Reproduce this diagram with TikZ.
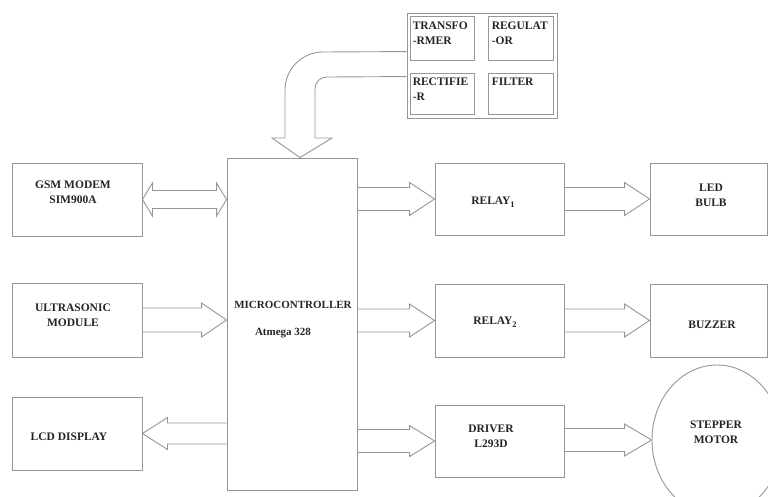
\documentclass[tikz,border=0pt]{standalone}
\usepackage{fontspec}
\setmainfont{Liberation Serif}
\usetikzlibrary{calc,shapes.geometric}
\definecolor{lc}{RGB}{150,150,150}
\definecolor{tc}{RGB}{35,35,45}
\tikzset{
  box/.style={draw=lc, line width=0.9pt, rectangle, inner sep=0pt},
  blk/.style={draw=lc, line width=0.9pt, line join=miter},
  txt/.style={text=tc, font=\bfseries\fontsize{11.5}{15}\selectfont, align=center, inner sep=0pt},
  mtxt/.style={text=tc, font=\bfseries\fontsize{11}{14}\selectfont, align=center, inner sep=0pt},
  ptxt/.style={text=tc, font=\bfseries\fontsize{11.5}{15.5}\selectfont, align=left, inner sep=0pt, anchor=north west},
}
% horizontal block arrow: tail point (x used), tip point, shaft half, head half, head length (signed)
\newcommand\harrow[5]{%
  \draw[blk] let \p1=(#1), \p2=(#2) in
    ({\x1},{\y2+#3pt}) -- ({\x2-(#5pt)},{\y2+#3pt}) -- ({\x2-(#5pt)},{\y2+#4pt}) -- (\p2)
    -- ({\x2-(#5pt)},{\y2-#4pt}) -- ({\x2-(#5pt)},{\y2-#3pt}) -- ({\x1},{\y2-#3pt});}
\begin{document}
\begin{tikzpicture}[x=1pt,y=-1pt]
\path[use as bounding box, clip] (0,0) rectangle (768,496);

% power supply group
\node[box, minimum width=150, minimum height=105] (pwr) at (482,65.5) {};
\node[box, minimum width=64, minimum height=44] (tr) at (442,38) {};
\node[box, minimum width=65, minimum height=44] (rg) at (520.5,38) {};
\node[box, minimum width=64, minimum height=41] (rc) at (442,93.5) {};
\node[box, minimum width=65, minimum height=41] (fl) at (520.5,93.5) {};
\node[ptxt] (trT) at ($(tr.north west)+(3,6)$) {TRANSFO\\-RMER};
\node[ptxt] (rgT) at ($(rg.north west)+(4,6)$) {REGULAT\\-OR};
\node[ptxt] (rcT) at ($(rc.north west)+(3,5)$) {RECTIFIE\\-R};
\node[ptxt] (flT) at ($(fl.north west)+(4,5)$) {FILTER};

% main blocks
\node[box, minimum width=130, minimum height=73] (gsm) at (77,199.5) {};
\node[box, minimum width=130, minimum height=74] (ultra) at (77,320) {};
\node[box, minimum width=130, minimum height=73] (lcd) at (77,433.5) {};
\node[box, minimum width=130, minimum height=332] (mc) at (292,324) {};
\node[box, minimum width=129, minimum height=72] (relay1) at (499.5,199) {};
\node[box, minimum width=129, minimum height=73] (relay2) at (499.5,320.5) {};
\node[box, minimum width=129, minimum height=72] (drv) at (499.5,441) {};
\node[box, minimum width=117, minimum height=72] (led) at (708.5,199) {};
\node[box, minimum width=117, minimum height=73] (buzz) at (708.5,320.5) {};
\node[draw=lc, line width=0.9pt, ellipse, minimum width=130, minimum height=150, inner sep=0pt] (step) at (717,440) {};

% texts
\node[txt] (gsmT) at (73,192.5) {GSM MODEM\\SIM900A};
\node[txt] (ultraT) at (73,315.5) {ULTRASONIC\\MODULE};
\node[txt] (lcdT) at (69,437) {LCD DISPLAY};
\node[mtxt] (mcT1) at (293,305) {MICROCONTROLLER};
\node[mtxt] (mcT2) at (283,333) {Atmega 328};
\node[txt] (relay1T) at (493,202) {RELAY\raisebox{-3.5pt}{\fontsize{8.5}{9}\selectfont 1}};
\node[txt] (relay2T) at (495,322) {RELAY\raisebox{-3.5pt}{\fontsize{8.5}{9}\selectfont 2}};
\node[txt] (ledT) at (711,195.5) {LED\\BULB};
\node[txt] (buzzT) at (712,325) {BUZZER};
\node[txt] (drvT) at (491,436) {DRIVER\\L293D};
\node[txt] (stepT) at (716,432) {STEPPER\\MOTOR};

% power curved block arrow
\draw[blk] ($(pwr.north west)+(0,64)$) -- (327,77) .. controls (320,77) and (315,82) .. (315,89)
  -- (315,138) -- (332,138) -- ($(mc.north)+(8,0)$) -- (272,138) -- (285,138) -- (285,90)
  .. controls (285,69) and (302,52) .. (323,52) -- ($(pwr.north west)+(0,39)$);

% GSM <-> MC double block arrow
\draw[blk] let \p1=(gsm.east), \p2=(mc.west|-gsm.east) in
  (\p1) -- ({\x1+10pt},{\y1+16.5pt}) -- ({\x1+10pt},{\y1+9pt}) -- ({\x2-10pt},{\y1+9pt})
  -- ({\x2-10pt},{\y1+16.5pt}) -- (\p2) -- ({\x2-10pt},{\y1-16.5pt}) -- ({\x2-10pt},{\y1-9pt})
  -- ({\x1+10pt},{\y1-9pt}) -- ({\x1+10pt},{\y1-16.5pt}) -- cycle;

% single block arrows
\harrow{ultra.east}{mc.west|-ultra.east}{12}{17}{25}
\harrow{mc.west|-lcd.east}{lcd.east}{10.5}{16}{-25}
\harrow{mc.east|-relay1.west}{relay1.west}{11.5}{16.5}{25}
\harrow{mc.east|-relay2.west}{relay2.west}{11.5}{16.5}{25}
\harrow{mc.east|-drv.west}{drv.west}{11.5}{15.5}{25}
\harrow{relay1.east}{led.west}{11.5}{16.5}{25}
\harrow{relay2.east}{buzz.west}{11.5}{16.5}{25}
\harrow{drv.east}{step.west}{11.5}{16}{27}
\end{tikzpicture}
\end{document}
